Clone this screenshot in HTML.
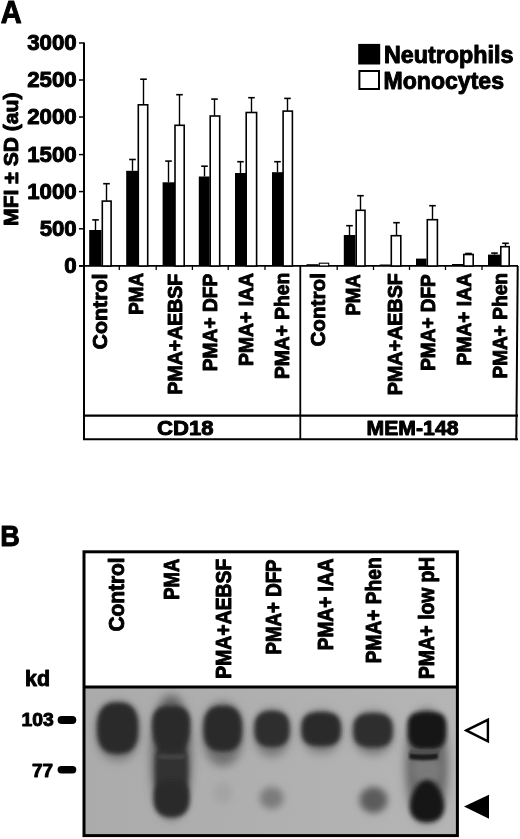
<!DOCTYPE html>
<html><head><meta charset="utf-8"><style>
html,body{margin:0;padding:0;background:#fff;}
svg{display:block;will-change:transform;filter:blur(0.35px);}
</style></head><body>
<svg width="520" height="839" viewBox="0 0 520 839">
<rect width="520" height="839" fill="#fff"/>
<text transform="translate(0.7,22.5) scale(0.94,1)" font-family="Liberation Sans, sans-serif" font-weight="bold" stroke="#000" stroke-width="0.95" stroke-linejoin="round" font-size="30.9">A</text>
<line x1="84" y1="42.5" x2="84" y2="267" stroke="#000" stroke-width="2"/>
<line x1="79" y1="43.0" x2="84" y2="43.0" stroke="#000" stroke-width="1.5"/>
<text x="76.7" y="50.0" font-family="Liberation Sans, sans-serif" font-weight="bold" stroke="#000" stroke-width="0.95" stroke-linejoin="round" font-size="21.3" text-anchor="end" textLength="49.5" lengthAdjust="spacingAndGlyphs">3000</text>
<line x1="79" y1="80.0" x2="84" y2="80.0" stroke="#000" stroke-width="1.5"/>
<text x="76.7" y="87.0" font-family="Liberation Sans, sans-serif" font-weight="bold" stroke="#000" stroke-width="0.95" stroke-linejoin="round" font-size="21.3" text-anchor="end" textLength="49.5" lengthAdjust="spacingAndGlyphs">2500</text>
<line x1="79" y1="117.0" x2="84" y2="117.0" stroke="#000" stroke-width="1.5"/>
<text x="76.7" y="124.0" font-family="Liberation Sans, sans-serif" font-weight="bold" stroke="#000" stroke-width="0.95" stroke-linejoin="round" font-size="21.3" text-anchor="end" textLength="49.5" lengthAdjust="spacingAndGlyphs">2000</text>
<line x1="79" y1="154.6" x2="84" y2="154.6" stroke="#000" stroke-width="1.5"/>
<text x="76.7" y="161.6" font-family="Liberation Sans, sans-serif" font-weight="bold" stroke="#000" stroke-width="0.95" stroke-linejoin="round" font-size="21.3" text-anchor="end" textLength="49.5" lengthAdjust="spacingAndGlyphs">1500</text>
<line x1="79" y1="191.6" x2="84" y2="191.6" stroke="#000" stroke-width="1.5"/>
<text x="76.7" y="198.6" font-family="Liberation Sans, sans-serif" font-weight="bold" stroke="#000" stroke-width="0.95" stroke-linejoin="round" font-size="21.3" text-anchor="end" textLength="49.5" lengthAdjust="spacingAndGlyphs">1000</text>
<line x1="79" y1="228.8" x2="84" y2="228.8" stroke="#000" stroke-width="1.5"/>
<text x="76.7" y="235.8" font-family="Liberation Sans, sans-serif" font-weight="bold" stroke="#000" stroke-width="0.95" stroke-linejoin="round" font-size="21.3" text-anchor="end" textLength="37.0" lengthAdjust="spacingAndGlyphs">500</text>
<line x1="79" y1="265.9" x2="84" y2="265.9" stroke="#000" stroke-width="1.5"/>
<text x="76.7" y="272.9" font-family="Liberation Sans, sans-serif" font-weight="bold" stroke="#000" stroke-width="0.95" stroke-linejoin="round" font-size="21.3" text-anchor="end" textLength="12.4" lengthAdjust="spacingAndGlyphs">0</text>
<line x1="79" y1="265.9" x2="518" y2="265.9" stroke="#000" stroke-width="1.6"/>
<line x1="119.3" y1="266" x2="119.3" y2="270" stroke="#000" stroke-width="1.3"/>
<line x1="156.2" y1="266" x2="156.2" y2="270" stroke="#000" stroke-width="1.3"/>
<line x1="192.4" y1="266" x2="192.4" y2="270" stroke="#000" stroke-width="1.3"/>
<line x1="228.2" y1="266" x2="228.2" y2="270" stroke="#000" stroke-width="1.3"/>
<line x1="265.0" y1="266" x2="265.0" y2="270" stroke="#000" stroke-width="1.3"/>
<line x1="337.2" y1="266" x2="337.2" y2="270" stroke="#000" stroke-width="1.3"/>
<line x1="373.5" y1="266" x2="373.5" y2="270" stroke="#000" stroke-width="1.3"/>
<line x1="409.5" y1="266" x2="409.5" y2="270" stroke="#000" stroke-width="1.3"/>
<line x1="445.5" y1="266" x2="445.5" y2="270" stroke="#000" stroke-width="1.3"/>
<line x1="482.0" y1="266" x2="482.0" y2="270" stroke="#000" stroke-width="1.3"/>
<line x1="84" y1="266" x2="84" y2="439.8" stroke="#000" stroke-width="2"/>
<line x1="300.3" y1="266" x2="300.3" y2="439.8" stroke="#000" stroke-width="1.8"/>
<line x1="517.7" y1="266" x2="516.3" y2="440.2" stroke="#000" stroke-width="2"/>
<line x1="83" y1="415.6" x2="518" y2="415.6" stroke="#000" stroke-width="2.1"/>
<line x1="83" y1="439.2" x2="518" y2="439.2" stroke="#000" stroke-width="2"/>
<line x1="95.5" y1="230.0" x2="95.5" y2="219.9" stroke="#000" stroke-width="1.4"/>
<line x1="92.2" y1="219.9" x2="98.8" y2="219.9" stroke="#000" stroke-width="1.6"/>
<line x1="106.5" y1="200.8" x2="106.5" y2="183.7" stroke="#000" stroke-width="1.4"/>
<line x1="103.2" y1="183.7" x2="109.8" y2="183.7" stroke="#000" stroke-width="1.6"/>
<rect x="102.3" y="201.1" width="8.8" height="64.9" fill="#fff" stroke="#000" stroke-width="1.6"/>
<rect x="89.2" y="230.0" width="12.3" height="36.0" fill="#000"/>
<line x1="132.5" y1="170.8" x2="132.5" y2="159.5" stroke="#000" stroke-width="1.4"/>
<line x1="129.2" y1="159.5" x2="135.8" y2="159.5" stroke="#000" stroke-width="1.6"/>
<line x1="143.5" y1="104.5" x2="143.5" y2="79.2" stroke="#000" stroke-width="1.4"/>
<line x1="140.2" y1="79.2" x2="146.8" y2="79.2" stroke="#000" stroke-width="1.6"/>
<rect x="138.3" y="104.8" width="9.4" height="161.2" fill="#fff" stroke="#000" stroke-width="1.6"/>
<rect x="126.2" y="170.8" width="12.7" height="95.2" fill="#000"/>
<line x1="168.5" y1="182.3" x2="168.5" y2="161.1" stroke="#000" stroke-width="1.4"/>
<line x1="165.2" y1="161.1" x2="171.8" y2="161.1" stroke="#000" stroke-width="1.6"/>
<line x1="179.5" y1="125.0" x2="179.5" y2="94.7" stroke="#000" stroke-width="1.4"/>
<line x1="176.2" y1="94.7" x2="182.8" y2="94.7" stroke="#000" stroke-width="1.6"/>
<rect x="175.0" y="125.3" width="9.2" height="140.7" fill="#fff" stroke="#000" stroke-width="1.6"/>
<rect x="162.6" y="182.3" width="12.4" height="83.7" fill="#000"/>
<line x1="204.5" y1="176.5" x2="204.5" y2="166.2" stroke="#000" stroke-width="1.4"/>
<line x1="201.2" y1="166.2" x2="207.8" y2="166.2" stroke="#000" stroke-width="1.6"/>
<line x1="214.5" y1="115.7" x2="214.5" y2="99.1" stroke="#000" stroke-width="1.4"/>
<line x1="211.2" y1="99.1" x2="217.8" y2="99.1" stroke="#000" stroke-width="1.6"/>
<rect x="210.2" y="116.0" width="9.5" height="150.0" fill="#fff" stroke="#000" stroke-width="1.6"/>
<rect x="198.8" y="176.5" width="10.8" height="89.5" fill="#000"/>
<line x1="240.5" y1="173.0" x2="240.5" y2="161.7" stroke="#000" stroke-width="1.4"/>
<line x1="237.2" y1="161.7" x2="243.8" y2="161.7" stroke="#000" stroke-width="1.6"/>
<line x1="251.5" y1="112.2" x2="251.5" y2="97.7" stroke="#000" stroke-width="1.4"/>
<line x1="248.2" y1="97.7" x2="254.8" y2="97.7" stroke="#000" stroke-width="1.6"/>
<rect x="246.2" y="112.5" width="10.4" height="153.5" fill="#fff" stroke="#000" stroke-width="1.6"/>
<rect x="235.0" y="173.0" width="11.0" height="93.0" fill="#000"/>
<line x1="277.5" y1="172.2" x2="277.5" y2="161.7" stroke="#000" stroke-width="1.4"/>
<line x1="274.2" y1="161.7" x2="280.8" y2="161.7" stroke="#000" stroke-width="1.6"/>
<line x1="287.5" y1="110.8" x2="287.5" y2="98.4" stroke="#000" stroke-width="1.4"/>
<line x1="284.2" y1="98.4" x2="290.8" y2="98.4" stroke="#000" stroke-width="1.6"/>
<rect x="283.1" y="111.1" width="9.3" height="154.9" fill="#fff" stroke="#000" stroke-width="1.6"/>
<rect x="272.0" y="172.2" width="11.0" height="93.8" fill="#000"/>
<rect x="319.3" y="263.2" width="9.4" height="2.8" fill="#fff" stroke="#000" stroke-width="1.1"/>
<rect x="306.5" y="264.2" width="12.0" height="1.8" fill="#000"/>
<line x1="349.5" y1="235.0" x2="349.5" y2="225.7" stroke="#000" stroke-width="1.4"/>
<line x1="346.2" y1="225.7" x2="352.8" y2="225.7" stroke="#000" stroke-width="1.6"/>
<line x1="360.5" y1="210.0" x2="360.5" y2="195.7" stroke="#000" stroke-width="1.4"/>
<line x1="357.2" y1="195.7" x2="363.8" y2="195.7" stroke="#000" stroke-width="1.6"/>
<rect x="356.2" y="210.3" width="8.8" height="55.7" fill="#fff" stroke="#000" stroke-width="1.6"/>
<rect x="343.8" y="235.0" width="11.6" height="31.0" fill="#000"/>
<line x1="396.5" y1="235.4" x2="396.5" y2="222.7" stroke="#000" stroke-width="1.4"/>
<line x1="393.2" y1="222.7" x2="399.8" y2="222.7" stroke="#000" stroke-width="1.6"/>
<rect x="391.3" y="235.7" width="9.5" height="30.3" fill="#fff" stroke="#000" stroke-width="1.6"/>
<rect x="379.7" y="264.5" width="10.8" height="1.5" fill="#000"/>
<line x1="432.5" y1="219.4" x2="432.5" y2="205.7" stroke="#000" stroke-width="1.4"/>
<line x1="429.2" y1="205.7" x2="435.8" y2="205.7" stroke="#000" stroke-width="1.6"/>
<rect x="427.3" y="219.7" width="10.1" height="46.3" fill="#fff" stroke="#000" stroke-width="1.6"/>
<rect x="416.0" y="258.6" width="10.5" height="7.4" fill="#000"/>
<line x1="468.5" y1="254.2" x2="468.5" y2="253.5" stroke="#000" stroke-width="1.4"/>
<line x1="465.2" y1="253.5" x2="471.8" y2="253.5" stroke="#000" stroke-width="1.6"/>
<rect x="463.8" y="254.5" width="9.4" height="11.5" fill="#fff" stroke="#000" stroke-width="1.6"/>
<rect x="452.0" y="264.0" width="11.0" height="2.0" fill="#000"/>
<line x1="494.5" y1="254.6" x2="494.5" y2="253.1" stroke="#000" stroke-width="1.4"/>
<line x1="491.2" y1="253.1" x2="497.8" y2="253.1" stroke="#000" stroke-width="1.6"/>
<line x1="505.5" y1="246.4" x2="505.5" y2="243.3" stroke="#000" stroke-width="1.4"/>
<line x1="502.2" y1="243.3" x2="508.8" y2="243.3" stroke="#000" stroke-width="1.6"/>
<rect x="500.8" y="246.7" width="8.4" height="19.3" fill="#fff" stroke="#000" stroke-width="1.6"/>
<rect x="488.0" y="254.6" width="12.0" height="11.4" fill="#000"/>
<rect x="358.2" y="43.9" width="22" height="20.6" fill="#000"/>
<rect x="359.4" y="71" width="19.6" height="18" fill="#fff" stroke="#000" stroke-width="2"/>
<text x="384" y="63" font-family="Liberation Sans, sans-serif" font-weight="bold" stroke="#000" stroke-width="0.95" stroke-linejoin="round" font-size="23" textLength="129.5" lengthAdjust="spacingAndGlyphs">Neutrophils</text>
<text x="383.5" y="89" font-family="Liberation Sans, sans-serif" font-weight="bold" stroke="#000" stroke-width="0.95" stroke-linejoin="round" font-size="23" textLength="120.5" lengthAdjust="spacingAndGlyphs">Monocytes</text>
<text transform="translate(18.4,225.9) rotate(-90)" font-family="Liberation Sans, sans-serif" font-weight="bold" stroke="#000" stroke-width="0.95" stroke-linejoin="round" font-size="20.5" textLength="133.3" lengthAdjust="spacingAndGlyphs">MFI ± SD (au)</text>
<text transform="translate(106.9,273.5) rotate(-90)" font-family="Liberation Sans, sans-serif" font-weight="bold" stroke="#000" stroke-width="0.95" stroke-linejoin="round" font-size="21.0" text-anchor="end" textLength="75.9" lengthAdjust="spacingAndGlyphs">Control</text>
<text transform="translate(142.7,273.0) rotate(-90)" font-family="Liberation Sans, sans-serif" font-weight="bold" stroke="#000" stroke-width="0.95" stroke-linejoin="round" font-size="21.0" text-anchor="end" textLength="41.8" lengthAdjust="spacingAndGlyphs">PMA</text>
<text transform="translate(182.0,273.8) rotate(-90)" font-family="Liberation Sans, sans-serif" font-weight="bold" stroke="#000" stroke-width="0.95" stroke-linejoin="round" font-size="21.0" text-anchor="end" textLength="120.7" lengthAdjust="spacingAndGlyphs">PMA+AEBSF</text>
<text transform="translate(216.5,273.8) rotate(-90)" font-family="Liberation Sans, sans-serif" font-weight="bold" stroke="#000" stroke-width="0.95" stroke-linejoin="round" font-size="21.0" text-anchor="end" textLength="97.4" lengthAdjust="spacingAndGlyphs">PMA+ DFP</text>
<text transform="translate(252.6,272.9) rotate(-90)" font-family="Liberation Sans, sans-serif" font-weight="bold" stroke="#000" stroke-width="0.95" stroke-linejoin="round" font-size="21.0" text-anchor="end" textLength="93.1" lengthAdjust="spacingAndGlyphs">PMA+ IAA</text>
<text transform="translate(288.9,272.9) rotate(-90)" font-family="Liberation Sans, sans-serif" font-weight="bold" stroke="#000" stroke-width="0.95" stroke-linejoin="round" font-size="21.0" text-anchor="end" textLength="106.1" lengthAdjust="spacingAndGlyphs">PMA+ Phen</text>
<text transform="translate(324.9,273.1) rotate(-90)" font-family="Liberation Sans, sans-serif" font-weight="bold" stroke="#000" stroke-width="0.95" stroke-linejoin="round" font-size="21.0" text-anchor="end" textLength="73.5" lengthAdjust="spacingAndGlyphs">Control</text>
<text transform="translate(360.3,274.3) rotate(-90)" font-family="Liberation Sans, sans-serif" font-weight="bold" stroke="#000" stroke-width="0.95" stroke-linejoin="round" font-size="21.0" text-anchor="end" textLength="41.3" lengthAdjust="spacingAndGlyphs">PMA</text>
<text transform="translate(402.3,273.1) rotate(-90)" font-family="Liberation Sans, sans-serif" font-weight="bold" stroke="#000" stroke-width="0.95" stroke-linejoin="round" font-size="21.0" text-anchor="end" textLength="122.1" lengthAdjust="spacingAndGlyphs">PMA+AEBSF</text>
<text transform="translate(434.9,274.3) rotate(-90)" font-family="Liberation Sans, sans-serif" font-weight="bold" stroke="#000" stroke-width="0.95" stroke-linejoin="round" font-size="21.0" text-anchor="end" textLength="96.5" lengthAdjust="spacingAndGlyphs">PMA+ DFP</text>
<text transform="translate(470.9,273.1) rotate(-90)" font-family="Liberation Sans, sans-serif" font-weight="bold" stroke="#000" stroke-width="0.95" stroke-linejoin="round" font-size="21.0" text-anchor="end" textLength="92.3" lengthAdjust="spacingAndGlyphs">PMA+ IAA</text>
<text transform="translate(507.2,273.1) rotate(-90)" font-family="Liberation Sans, sans-serif" font-weight="bold" stroke="#000" stroke-width="0.95" stroke-linejoin="round" font-size="21.0" text-anchor="end" textLength="105.5" lengthAdjust="spacingAndGlyphs">PMA+ Phen</text>
<text x="157" y="435.4" font-family="Liberation Sans, sans-serif" font-weight="bold" stroke="#000" stroke-width="0.95" stroke-linejoin="round" font-size="20.5" textLength="56.5" lengthAdjust="spacingAndGlyphs">CD18</text>
<text x="366.5" y="435.4" font-family="Liberation Sans, sans-serif" font-weight="bold" stroke="#000" stroke-width="0.95" stroke-linejoin="round" font-size="20.5" textLength="92" lengthAdjust="spacingAndGlyphs">MEM-148</text>
<text transform="translate(0.2,546.3) scale(0.915,1)" font-family="Liberation Sans, sans-serif" font-weight="bold" stroke="#000" stroke-width="0.95" stroke-linejoin="round" font-size="29.6">B</text>
<defs>
<filter id="b1" x="-50%" y="-50%" width="200%" height="200%"><feGaussianBlur stdDeviation="1.2"/></filter>
<filter id="b2" x="-50%" y="-50%" width="200%" height="200%"><feGaussianBlur stdDeviation="2.2"/></filter>
<filter id="b3" x="-50%" y="-50%" width="200%" height="200%"><feGaussianBlur stdDeviation="3.5"/></filter>
<filter id="b4" x="-50%" y="-50%" width="200%" height="200%"><feGaussianBlur stdDeviation="5"/></filter>
<linearGradient id="gg" x1="0" x2="1" y1="0" y2="0"><stop offset="0" stop-color="#ababab"/><stop offset="1" stop-color="#b5b5b5"/></linearGradient>
<clipPath id="gc"><rect x="85" y="688" width="371.5" height="146.5"/></clipPath>
</defs>
<rect x="85" y="688" width="371.5" height="146.5" fill="url(#gg)"/>
<g clip-path="url(#gc)">
<path d="M139.7,731.0 L139.5,735.7 L139.0,739.8 L138.2,743.5 L137.0,747.0 L135.5,750.1 L133.8,752.9 L131.7,755.3 L129.4,757.3 L126.9,758.9 L124.1,760.1 L121.2,760.8 L117.7,761.0 L114.2,760.8 L111.3,760.1 L108.5,758.9 L106.0,757.3 L103.7,755.3 L101.6,752.9 L99.9,750.1 L98.4,747.0 L97.2,743.5 L96.4,739.8 L95.9,735.7 L95.7,731.0 L95.9,726.3 L96.4,722.2 L97.2,718.5 L98.4,715.0 L99.9,711.9 L101.6,709.1 L103.7,706.7 L106.0,704.7 L108.5,703.1 L111.3,701.9 L114.2,701.2 L117.7,701.0 L121.2,701.2 L124.1,701.9 L126.9,703.1 L129.4,704.7 L131.7,706.7 L133.8,709.1 L135.5,711.9 L137.0,715.0 L138.2,718.5 L139.0,722.2 L139.5,726.3 Z" fill="#7a7a7a" filter="url(#b4)"/>
<path d="M191.2,757.0 L191.0,766.7 L190.6,775.1 L189.8,782.9 L188.7,790.0 L187.4,796.5 L185.8,802.2 L183.9,807.2 L181.9,811.4 L179.6,814.7 L177.1,817.1 L174.3,818.5 L171.2,819.0 L168.1,818.5 L165.3,817.1 L162.8,814.7 L160.5,811.4 L158.5,807.2 L156.6,802.2 L155.0,796.5 L153.7,790.0 L152.6,782.9 L151.8,775.1 L151.4,766.7 L151.2,757.0 L151.4,747.3 L151.8,738.9 L152.6,731.1 L153.7,724.0 L155.0,717.5 L156.6,711.8 L158.5,706.8 L160.5,702.6 L162.8,699.3 L165.3,696.9 L168.1,695.5 L171.2,695.0 L174.3,695.5 L177.1,696.9 L179.6,699.3 L181.9,702.6 L183.9,706.8 L185.8,711.8 L187.4,717.5 L188.7,724.0 L189.8,731.1 L190.6,738.9 L191.0,747.3 Z" fill="#606060" filter="url(#b4)"/>
<path d="M242.8,734.0 L242.6,739.0 L242.2,743.4 L241.4,747.4 L240.3,751.0 L239.0,754.4 L237.4,757.4 L235.5,759.9 L233.5,762.1 L231.2,763.8 L228.7,765.0 L225.9,765.8 L222.8,766.0 L219.7,765.8 L216.9,765.0 L214.4,763.8 L212.1,762.1 L210.1,759.9 L208.2,757.4 L206.6,754.4 L205.3,751.0 L204.2,747.4 L203.4,743.4 L203.0,739.0 L202.8,734.0 L203.0,729.0 L203.4,724.6 L204.2,720.6 L205.3,717.0 L206.6,713.6 L208.2,710.6 L210.1,708.1 L212.1,705.9 L214.4,704.2 L216.9,703.0 L219.7,702.2 L222.8,702.0 L225.9,702.2 L228.7,703.0 L231.2,704.2 L233.5,705.9 L235.5,708.1 L237.4,710.6 L239.0,713.6 L240.3,717.0 L241.4,720.6 L242.2,724.6 L242.6,729.0 Z" fill="#707070" filter="url(#b4)"/>
<path d="M290.0,733.0 L289.9,736.8 L289.4,740.0 L288.7,743.0 L287.8,745.8 L286.6,748.3 L285.1,750.5 L283.5,752.4 L281.6,754.1 L279.5,755.3 L277.3,756.3 L274.8,756.8 L272.0,757.0 L269.2,756.8 L266.7,756.3 L264.5,755.3 L262.4,754.1 L260.5,752.4 L258.9,750.5 L257.4,748.3 L256.2,745.8 L255.3,743.0 L254.6,740.0 L254.1,736.8 L254.0,733.0 L254.1,729.2 L254.6,726.0 L255.3,723.0 L256.2,720.2 L257.4,717.7 L258.9,715.5 L260.5,713.6 L262.4,711.9 L264.5,710.7 L266.7,709.7 L269.2,709.2 L272.0,709.0 L274.8,709.2 L277.3,709.7 L279.5,710.7 L281.6,711.9 L283.5,713.6 L285.1,715.5 L286.6,717.7 L287.8,720.2 L288.7,723.0 L289.4,726.0 L289.9,729.2 Z" fill="#7a7a7a" filter="url(#b4)"/>
<path d="M341.2,732.0 L341.0,735.5 L340.6,738.4 L339.8,741.2 L338.7,743.7 L337.4,746.0 L335.8,748.1 L333.9,749.8 L331.9,751.3 L329.6,752.5 L327.1,753.3 L324.3,753.8 L321.2,754.0 L318.1,753.8 L315.3,753.3 L312.8,752.5 L310.5,751.3 L308.5,749.8 L306.6,748.1 L305.0,746.0 L303.7,743.7 L302.6,741.2 L301.8,738.4 L301.4,735.5 L301.2,732.0 L301.4,728.5 L301.8,725.6 L302.6,722.8 L303.7,720.3 L305.0,718.0 L306.6,715.9 L308.5,714.2 L310.5,712.7 L312.8,711.5 L315.3,710.7 L318.1,710.2 L321.2,710.0 L324.3,710.2 L327.1,710.7 L329.6,711.5 L331.9,712.7 L333.9,714.2 L335.8,715.9 L337.4,718.0 L338.7,720.3 L339.8,722.8 L340.6,725.6 L341.0,728.5 Z" fill="#808080" filter="url(#b4)"/>
<path d="M393.0,733.0 L392.8,736.5 L392.4,739.4 L391.6,742.2 L390.5,744.7 L389.2,747.0 L387.6,749.1 L385.7,750.8 L383.7,752.3 L381.4,753.5 L378.9,754.3 L376.1,754.8 L373.0,755.0 L369.9,754.8 L367.1,754.3 L364.6,753.5 L362.3,752.3 L360.3,750.8 L358.4,749.1 L356.8,747.0 L355.5,744.7 L354.4,742.2 L353.6,739.4 L353.2,736.5 L353.0,733.0 L353.2,729.5 L353.6,726.6 L354.4,723.8 L355.5,721.3 L356.8,719.0 L358.4,716.9 L360.3,715.2 L362.3,713.7 L364.6,712.5 L367.1,711.7 L369.9,711.2 L373.0,711.0 L376.1,711.2 L378.9,711.7 L381.4,712.5 L383.7,713.7 L385.7,715.2 L387.6,716.9 L389.2,719.0 L390.5,721.3 L391.6,723.8 L392.4,726.6 L392.8,729.5 Z" fill="#7a7a7a" filter="url(#b4)"/>
<path d="M447.6,766.0 L447.4,775.0 L446.9,782.7 L446.1,789.8 L445.0,796.4 L443.6,802.3 L441.9,807.6 L440.0,812.2 L437.8,816.0 L435.4,819.0 L432.7,821.2 L429.9,822.6 L426.6,823.0 L423.3,822.6 L420.5,821.2 L417.8,819.0 L415.4,816.0 L413.2,812.2 L411.3,807.6 L409.6,802.3 L408.2,796.4 L407.1,789.8 L406.3,782.7 L405.8,775.0 L405.6,766.0 L405.8,757.0 L406.3,749.3 L407.1,742.2 L408.2,735.6 L409.6,729.7 L411.3,724.4 L413.2,719.8 L415.4,716.0 L417.8,713.0 L420.5,710.8 L423.3,709.4 L426.6,709.0 L429.9,709.4 L432.7,710.8 L435.4,713.0 L437.8,716.0 L440.0,719.8 L441.9,724.4 L443.6,729.7 L445.0,735.6 L446.1,742.2 L446.9,749.3 L447.4,757.0 Z" fill="#666" filter="url(#b4)"/>
<path d="M188.0,771.0 L187.9,779.4 L187.6,783.9 L187.2,787.5 L186.6,790.5 L185.8,793.0 L184.8,795.2 L183.6,797.0 L182.2,798.4 L180.6,799.6 L178.6,800.4 L176.1,800.8 L171.5,801.0 L166.9,800.8 L164.4,800.4 L162.4,799.6 L160.8,798.4 L159.4,797.0 L158.2,795.2 L157.2,793.0 L156.4,790.5 L155.8,787.5 L155.4,783.9 L155.1,779.4 L155.0,771.0 L155.1,762.6 L155.4,758.1 L155.8,754.5 L156.4,751.5 L157.2,749.0 L158.2,746.8 L159.4,745.0 L160.8,743.6 L162.4,742.4 L164.4,741.6 L166.9,741.2 L171.5,741.0 L176.1,741.2 L178.6,741.6 L180.6,742.4 L182.2,743.6 L183.6,745.0 L184.8,746.8 L185.8,749.0 L186.6,751.5 L187.2,754.5 L187.6,758.1 L187.9,762.6 Z" fill="#333333" filter="url(#b2)"/>
<path d="M186.5,756.5 L186.4,757.2 L186.2,757.6 L185.7,758.0 L185.1,758.3 L184.4,758.5 L183.4,758.7 L182.3,758.9 L180.9,759.0 L179.4,759.2 L177.6,759.2 L175.4,759.3 L171.5,759.3 L167.6,759.3 L165.4,759.2 L163.6,759.2 L162.1,759.0 L160.7,758.9 L159.6,758.7 L158.6,758.5 L157.9,758.3 L157.3,758.0 L156.8,757.6 L156.6,757.2 L156.5,756.5 L156.6,755.8 L156.8,755.4 L157.3,755.0 L157.9,754.7 L158.6,754.5 L159.6,754.3 L160.7,754.1 L162.1,754.0 L163.6,753.8 L165.4,753.8 L167.6,753.7 L171.5,753.7 L175.4,753.7 L177.6,753.8 L179.4,753.8 L180.9,754.0 L182.3,754.1 L183.4,754.3 L184.4,754.5 L185.1,754.7 L185.7,755.0 L186.2,755.4 L186.4,755.8 Z" fill="#424242" filter="url(#b1)"/>
<path d="M442.0,770.0 L441.9,773.1 L441.7,774.9 L441.2,776.3 L440.6,777.6 L439.9,778.6 L438.9,779.5 L437.8,780.3 L436.4,780.9 L434.9,781.4 L433.1,781.7 L430.9,781.9 L427.0,782.0 L423.1,781.9 L420.9,781.7 L419.1,781.4 L417.6,780.9 L416.2,780.3 L415.1,779.5 L414.1,778.6 L413.4,777.6 L412.8,776.3 L412.3,774.9 L412.1,773.1 L412.0,770.0 L412.1,766.9 L412.3,765.1 L412.8,763.7 L413.4,762.4 L414.1,761.4 L415.1,760.5 L416.2,759.7 L417.6,759.1 L419.1,758.6 L420.9,758.3 L423.1,758.1 L427.0,758.0 L430.9,758.1 L433.1,758.3 L434.9,758.6 L436.4,759.1 L437.8,759.7 L438.9,760.5 L439.9,761.4 L440.6,762.4 L441.2,763.7 L441.7,765.1 L441.9,766.9 Z" fill="#7a7a7a" filter="url(#b3)"/>
<path d="M138.3,728.2 L138.2,733.6 L137.8,737.3 L137.1,740.5 L136.1,743.3 L134.9,745.8 L133.5,748.0 L131.8,749.8 L129.8,751.3 L127.5,752.5 L125.0,753.3 L122.0,753.8 L117.7,754.0 L113.4,753.8 L110.4,753.3 L107.9,752.5 L105.6,751.3 L103.6,749.8 L101.9,748.0 L100.5,745.8 L99.3,743.3 L98.3,740.5 L97.6,737.3 L97.2,733.6 L97.1,728.2 L97.2,722.8 L97.6,719.1 L98.3,715.9 L99.3,713.1 L100.5,710.6 L101.9,708.4 L103.6,706.6 L105.6,705.1 L107.9,703.9 L110.4,703.1 L113.4,702.6 L117.7,702.4 L122.0,702.6 L125.0,703.1 L127.5,703.9 L129.8,705.1 L131.8,706.6 L133.5,708.4 L134.9,710.6 L136.1,713.1 L137.1,715.9 L137.8,719.1 L138.2,722.8 Z" fill="#2a2a2a" filter="url(#b2)"/>
<path d="M190.1,729.3 L189.6,734.8 L189.1,738.2 L188.3,741.1 L187.4,743.6 L186.3,745.8 L185.0,747.6 L183.6,749.2 L181.9,750.5 L180.0,751.5 L177.8,752.2 L175.3,752.7 L171.2,752.8 L167.1,752.7 L164.6,752.2 L162.4,751.5 L160.5,750.5 L158.8,749.2 L157.4,747.6 L156.1,745.8 L155.0,743.6 L154.1,741.1 L153.3,738.2 L152.8,734.8 L152.3,729.3 L152.1,723.8 L152.2,720.4 L152.6,717.5 L153.3,715.0 L154.3,712.8 L155.5,711.0 L157.0,709.4 L158.8,708.1 L161.0,707.1 L163.4,706.4 L166.4,705.9 L171.2,705.8 L176.0,705.9 L179.0,706.4 L181.4,707.1 L183.6,708.1 L185.4,709.4 L186.9,711.0 L188.1,712.8 L189.1,715.0 L189.8,717.5 L190.2,720.4 L190.3,723.8 Z" fill="#2a2a2a" filter="url(#b2)"/>
<path d="M189.6,798.5 L189.5,802.1 L189.1,804.8 L188.5,807.1 L187.6,809.1 L186.6,810.9 L185.2,812.5 L183.7,813.9 L181.9,815.0 L179.9,815.9 L177.7,816.5 L175.1,816.9 L171.6,817.0 L168.1,816.9 L165.5,816.5 L163.3,815.9 L161.3,815.0 L159.5,813.9 L158.0,812.5 L156.6,810.9 L155.6,809.1 L154.7,807.1 L154.1,804.8 L153.7,802.1 L153.6,798.5 L153.7,794.9 L154.1,792.2 L154.7,789.9 L155.6,787.9 L156.6,786.1 L158.0,784.5 L159.5,783.1 L161.3,782.0 L163.3,781.1 L165.5,780.5 L168.1,780.1 L171.6,780.0 L175.1,780.1 L177.7,780.5 L179.9,781.1 L181.9,782.0 L183.7,783.1 L185.2,784.5 L186.6,786.1 L187.6,787.9 L188.5,789.9 L189.1,792.2 L189.5,794.9 Z" fill="#2c2c2c" filter="url(#b2)"/>
<path d="M242.1,728.7 L242.0,733.5 L241.6,736.8 L241.0,739.7 L240.1,742.2 L239.0,744.4 L237.6,746.3 L236.0,747.9 L234.1,749.3 L232.0,750.3 L229.6,751.1 L226.8,751.5 L222.8,751.7 L218.8,751.5 L216.0,751.1 L213.6,750.3 L211.5,749.3 L209.6,747.9 L208.0,746.3 L206.6,744.4 L205.5,742.2 L204.6,739.7 L204.0,736.8 L203.6,733.5 L203.5,728.7 L203.6,723.9 L204.0,720.6 L204.6,717.7 L205.5,715.2 L206.6,713.0 L208.0,711.1 L209.6,709.5 L211.5,708.1 L213.6,707.1 L216.0,706.3 L218.8,705.9 L222.8,705.7 L226.8,705.9 L229.6,706.3 L232.0,707.1 L234.1,708.1 L236.0,709.5 L237.6,711.1 L239.0,713.0 L240.1,715.2 L241.0,717.7 L241.6,720.6 L242.0,723.9 Z" fill="#2a2a2a" filter="url(#b2)"/>
<path d="M289.6,729.0 L289.5,732.8 L289.1,735.4 L288.6,737.7 L287.8,739.7 L286.7,741.4 L285.5,742.9 L284.0,744.2 L282.3,745.3 L280.4,746.1 L278.2,746.7 L275.7,747.1 L272.0,747.2 L268.3,747.1 L265.8,746.7 L263.6,746.1 L261.7,745.3 L260.0,744.2 L258.5,742.9 L257.3,741.4 L256.2,739.7 L255.4,737.7 L254.9,735.4 L254.5,732.8 L254.4,729.0 L254.5,725.2 L254.9,722.6 L255.4,720.3 L256.2,718.3 L257.3,716.6 L258.5,715.1 L260.0,713.8 L261.7,712.7 L263.6,711.9 L265.8,711.3 L268.3,710.9 L272.0,710.8 L275.7,710.9 L278.2,711.3 L280.4,711.9 L282.3,712.7 L284.0,713.8 L285.5,715.1 L286.7,716.6 L287.8,718.3 L288.6,720.3 L289.1,722.6 L289.5,725.2 Z" fill="#2e2e2e" filter="url(#b2)"/>
<path d="M341.0,729.2 L340.9,733.2 L340.5,735.7 L339.9,737.9 L339.1,739.7 L338.0,741.3 L336.7,742.6 L335.1,743.8 L333.3,744.7 L331.2,745.5 L328.7,746.0 L325.8,746.3 L321.2,746.4 L316.6,746.3 L313.7,746.0 L311.2,745.5 L309.1,744.7 L307.3,743.8 L305.7,742.6 L304.4,741.3 L303.3,739.7 L302.5,737.9 L301.9,735.7 L301.5,733.2 L301.4,729.2 L301.5,725.2 L301.9,722.7 L302.5,720.5 L303.3,718.7 L304.4,717.1 L305.7,715.8 L307.3,714.6 L309.1,713.7 L311.2,712.9 L313.7,712.4 L316.6,712.1 L321.2,712.0 L325.8,712.1 L328.7,712.4 L331.2,712.9 L333.3,713.7 L335.1,714.6 L336.7,715.8 L338.0,717.1 L339.1,718.7 L339.9,720.5 L340.5,722.7 L340.9,725.2 Z" fill="#2c2c2c" filter="url(#b2)"/>
<path d="M392.7,730.3 L392.6,734.3 L392.2,736.8 L391.6,739.0 L390.8,740.8 L389.7,742.4 L388.4,743.7 L386.8,744.9 L385.0,745.8 L382.9,746.6 L380.5,747.1 L377.6,747.4 L373.0,747.5 L368.4,747.4 L365.5,747.1 L363.1,746.6 L361.0,745.8 L359.2,744.9 L357.6,743.7 L356.3,742.4 L355.2,740.8 L354.4,739.0 L353.8,736.8 L353.4,734.3 L353.3,730.3 L353.4,726.3 L353.8,723.8 L354.4,721.6 L355.2,719.8 L356.3,718.2 L357.6,716.9 L359.2,715.7 L361.0,714.8 L363.1,714.0 L365.5,713.5 L368.4,713.2 L373.0,713.1 L377.6,713.2 L380.5,713.5 L382.9,714.0 L385.0,714.8 L386.8,715.7 L388.4,716.9 L389.7,718.2 L390.8,719.8 L391.6,721.6 L392.2,723.8 L392.6,726.3 Z" fill="#2e2e2e" filter="url(#b2)"/>
<path d="M446.2,730.6 L445.9,735.9 L445.5,738.7 L444.9,740.9 L444.1,742.8 L443.1,744.4 L441.9,745.7 L440.6,746.9 L439.0,747.8 L437.1,748.5 L434.9,749.0 L432.1,749.3 L426.9,749.4 L421.7,749.3 L418.9,749.0 L416.7,748.5 L414.8,747.8 L413.2,746.9 L411.9,745.7 L410.7,744.4 L409.7,742.8 L408.9,740.9 L408.3,738.7 L407.9,735.9 L407.6,730.6 L407.5,725.3 L407.7,722.5 L408.1,720.3 L408.8,718.4 L409.7,716.8 L410.9,715.5 L412.3,714.3 L413.9,713.4 L415.9,712.7 L418.3,712.2 L421.3,711.9 L426.9,711.8 L432.5,711.9 L435.5,712.2 L437.9,712.7 L439.9,713.4 L441.5,714.3 L442.9,715.5 L444.1,716.8 L445.0,718.4 L445.7,720.3 L446.1,722.5 L446.3,725.3 Z" fill="#161616" filter="url(#b2)"/>
<path d="M232.5,793.0 L232.4,794.4 L232.2,795.8 L231.7,797.2 L231.2,798.5 L230.4,799.7 L229.6,800.8 L228.6,801.7 L227.5,802.5 L226.3,803.2 L225.1,803.6 L223.8,803.9 L222.5,804.0 L221.2,803.9 L219.9,803.6 L218.7,803.2 L217.5,802.5 L216.4,801.7 L215.4,800.8 L214.6,799.7 L213.8,798.5 L213.3,797.2 L212.8,795.8 L212.6,794.4 L212.5,793.0 L212.6,791.6 L212.8,790.2 L213.3,788.8 L213.8,787.5 L214.6,786.3 L215.4,785.2 L216.4,784.3 L217.5,783.5 L218.7,782.8 L219.9,782.4 L221.2,782.1 L222.5,782.0 L223.8,782.1 L225.1,782.4 L226.3,782.8 L227.5,783.5 L228.6,784.3 L229.6,785.2 L230.4,786.3 L231.2,787.5 L231.7,788.8 L232.2,790.2 L232.4,791.6 Z" fill="#a4a4a4" filter="url(#b3)"/>
<path d="M283.7,798.0 L283.6,799.4 L283.3,800.8 L282.8,802.2 L282.1,803.5 L281.2,804.7 L280.2,805.8 L279.0,806.7 L277.7,807.5 L276.3,808.2 L274.8,808.6 L273.3,808.9 L271.7,809.0 L270.1,808.9 L268.6,808.6 L267.1,808.2 L265.7,807.5 L264.4,806.7 L263.2,805.8 L262.2,804.7 L261.3,803.5 L260.6,802.2 L260.1,800.8 L259.8,799.4 L259.7,798.0 L259.8,796.6 L260.1,795.2 L260.6,793.8 L261.3,792.5 L262.2,791.3 L263.2,790.2 L264.4,789.3 L265.7,788.5 L267.1,787.8 L268.6,787.4 L270.1,787.1 L271.7,787.0 L273.3,787.1 L274.8,787.4 L276.3,787.8 L277.7,788.5 L279.0,789.3 L280.2,790.2 L281.2,791.3 L282.1,792.5 L282.8,793.8 L283.3,795.2 L283.6,796.6 Z" fill="#7c7c7c" filter="url(#b3)"/>
<path d="M387.5,800.0 L387.4,801.7 L387.0,803.4 L386.4,805.0 L385.6,806.5 L384.6,807.9 L383.4,809.2 L382.0,810.3 L380.5,811.3 L378.9,812.0 L377.1,812.6 L375.3,812.9 L373.5,813.0 L371.7,812.9 L369.9,812.6 L368.1,812.0 L366.5,811.3 L365.0,810.3 L363.6,809.2 L362.4,807.9 L361.4,806.5 L360.6,805.0 L360.0,803.4 L359.6,801.7 L359.5,800.0 L359.6,798.3 L360.0,796.6 L360.6,795.0 L361.4,793.5 L362.4,792.1 L363.6,790.8 L365.0,789.7 L366.5,788.7 L368.1,788.0 L369.9,787.4 L371.7,787.1 L373.5,787.0 L375.3,787.1 L377.1,787.4 L378.9,788.0 L380.5,788.7 L382.0,789.7 L383.4,790.8 L384.6,792.1 L385.6,793.5 L386.4,795.0 L387.0,796.6 L387.4,798.3 Z" fill="#5c5c5c" filter="url(#b3)"/>
<path d="M409.5,752.5 Q424,755 438,752.5 L438,759 Q424,761.5 409.5,759 Z" fill="#1a1a1a" filter="url(#b1)"/>
<rect x="410" y="749.5" width="29" height="4" fill="#505050" filter="url(#b1)"/>
<path d="M427,780 C436,780 444,795 444,807 C444,818 436,822 427,822 C418,822 410,818 410,807 C410,795 418,780 427,780 Z" fill="#151515" filter="url(#b2)"/>
</g>
<rect x="84" y="551.8" width="373.4" height="283.8" fill="none" stroke="#000" stroke-width="3"/>
<line x1="84" y1="687" x2="457.4" y2="687" stroke="#000" stroke-width="3"/>
<text transform="translate(123.9,557.4) rotate(-90)" font-family="Liberation Sans, sans-serif" font-weight="bold" stroke="#000" stroke-width="0.95" stroke-linejoin="round" font-size="21.4" text-anchor="end" textLength="74.2" lengthAdjust="spacingAndGlyphs">Control</text>
<text transform="translate(178.6,558.7) rotate(-90)" font-family="Liberation Sans, sans-serif" font-weight="bold" stroke="#000" stroke-width="0.95" stroke-linejoin="round" font-size="21.4" text-anchor="end" textLength="41.1" lengthAdjust="spacingAndGlyphs">PMA</text>
<text transform="translate(231.2,558.7) rotate(-90)" font-family="Liberation Sans, sans-serif" font-weight="bold" stroke="#000" stroke-width="0.95" stroke-linejoin="round" font-size="21.4" text-anchor="end" textLength="120.0" lengthAdjust="spacingAndGlyphs">PMA+AEBSF</text>
<text transform="translate(280.8,559.4) rotate(-90)" font-family="Liberation Sans, sans-serif" font-weight="bold" stroke="#000" stroke-width="0.95" stroke-linejoin="round" font-size="21.4" text-anchor="end" textLength="95.2" lengthAdjust="spacingAndGlyphs">PMA+ DFP</text>
<text transform="translate(333.0,558.5) rotate(-90)" font-family="Liberation Sans, sans-serif" font-weight="bold" stroke="#000" stroke-width="0.95" stroke-linejoin="round" font-size="21.4" text-anchor="end" textLength="91.8" lengthAdjust="spacingAndGlyphs">PMA+ IAA</text>
<text transform="translate(381.0,557.4) rotate(-90)" font-family="Liberation Sans, sans-serif" font-weight="bold" stroke="#000" stroke-width="0.95" stroke-linejoin="round" font-size="21.4" text-anchor="end" textLength="105.9" lengthAdjust="spacingAndGlyphs">PMA+ Phen</text>
<text transform="translate(433.6,556.8) rotate(-90)" font-family="Liberation Sans, sans-serif" font-weight="bold" stroke="#000" stroke-width="0.95" stroke-linejoin="round" font-size="21.4" text-anchor="end" textLength="122.3" lengthAdjust="spacingAndGlyphs">PMA+ low pH</text>
<text x="25" y="686.1" font-family="Liberation Sans, sans-serif" font-weight="bold" stroke="#000" stroke-width="0.95" stroke-linejoin="round" font-size="21.5" textLength="25" lengthAdjust="spacingAndGlyphs">kd</text>
<text x="21.5" y="726.1" font-family="Liberation Sans, sans-serif" font-weight="bold" stroke="#000" stroke-width="0.95" stroke-linejoin="round" font-size="18" textLength="32.3" lengthAdjust="spacingAndGlyphs">103</text>
<text x="32" y="776.8" font-family="Liberation Sans, sans-serif" font-weight="bold" stroke="#000" stroke-width="0.95" stroke-linejoin="round" font-size="18" textLength="21" lengthAdjust="spacingAndGlyphs">77</text>
<rect x="57.6" y="716" width="18.7" height="8" rx="4" fill="#000"/>
<rect x="57.6" y="766" width="18.7" height="7.4" rx="3.7" fill="#000"/>
<polygon points="466.3,730.4 487.9,719.8 487.9,741.4" fill="#fff" stroke="#000" stroke-width="2.4"/>
<polygon points="464,806.5 489,794.7 489,818.7" fill="#000"/>
</svg>
</body></html>
